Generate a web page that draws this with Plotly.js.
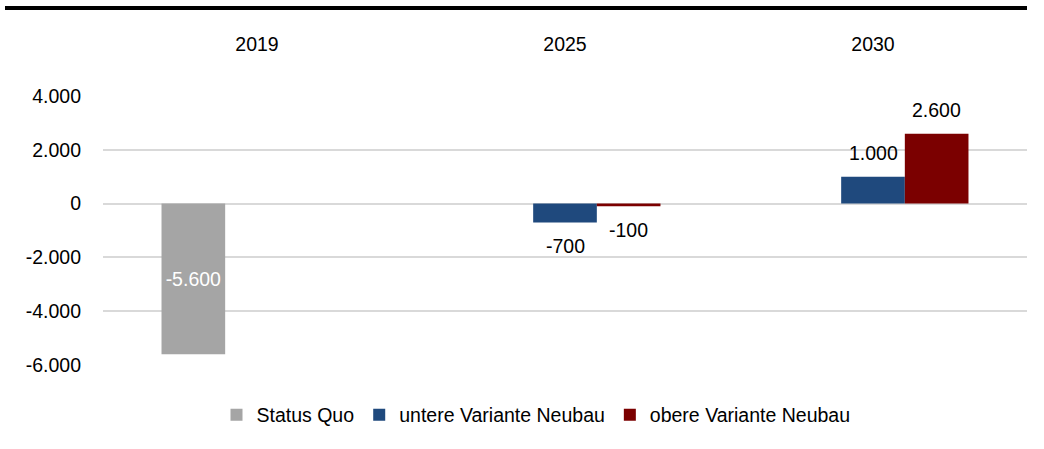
<!DOCTYPE html>
<html>
<head>
<meta charset="utf-8">
<script src="https://cdn.plot.ly/plotly-3.0.1.min.js"></script>
<style>html,body{margin:0;padding:0;background:#fff;}#chart{width:1044px;height:449px;}</style>
</head>
<body>
<div id="chart"></div>
<script>
// ---- data ----
var categories = ["2019", "2025", "2030"];
var seriesNames = ["Status Quo", "untere Variante Neubau", "obere Variante Neubau"];
var statusQuo = [-5600, null, null];
var untereVariante = [null, -700, 1000];
var obereVariante = [null, -100, 2600];
var tickValues = [4000, 2000, 0, -2000, -4000, -6000];
var tickLabels = ["4.000", "2.000", "0", "-2.000", "-4.000", "-6.000"];

// ---- styling ----
var FONT = "'Liberation Sans', Arial, sans-serif";
var FS = 19.5;
var colors = ["#A5A5A5", "#1F497D", "#7B0000"];

function fmt(v) {
  var s = Math.abs(v).toString().replace(/\B(?=(\d{3})+(?!\d))/g, ".");
  return (v < 0 ? "-" : "") + s;
}
function labels(arr) { return arr.map(function (v) { return v === null ? "" : fmt(v); }); }

var allSeries = [statusQuo, untereVariante, obereVariante];
var traces = allSeries.map(function (vals, i) {
  return {
    type: "bar",
    name: seriesNames[i],
    x: categories,
    y: vals,
    marker: { color: colors[i] },
    text: i === 0 ? labels(vals) : null,
    textposition: i === 0 ? "inside" : "none",
    insidetextanchor: "middle",
    textfont: { family: FONT, size: FS, color: "#ffffff" },
    hoverinfo: "x+y+name"
  };
});

// outside labels for the two Neubau series as annotations (offset like the original)
var annotations = [];
var barPx = 924 / 3 * (1 - 0.38) / 3;
[1, 2].forEach(function (i) {
  allSeries[i].forEach(function (v, j) {
    if (v === null) return;
    annotations.push({
      x: j, y: v, xref: "x", yref: "y",
      text: fmt(v), showarrow: false,
      xshift: (i - 1) * barPx,
      yshift: v < 0 ? -24 : 24,
      font: { family: FONT, size: FS, color: "#000000" }
    });
  });
});

var layout = {
  width: 1044, height: 449,
  paper_bgcolor: "#ffffff", plot_bgcolor: "#ffffff",
  margin: { l: 103, r: 17, t: 96, b: 84, pad: 0 },
  font: { family: FONT, size: FS, color: "#000000" },
  barmode: "group",
  bargap: 0.38,
  bargroupgap: 0,
  showlegend: true,
  legend: {
    orientation: "h", x: (536 - 103) / 924, xanchor: "center", y: -0.186, yanchor: "middle",
    font: { family: FONT, size: FS, color: "#000000" },
    itemwidth: 30, traceorder: "normal"
  },
  xaxis: {
    side: "top", type: "category",
    range: [-0.5, 2.5], autorange: false,
    showgrid: false, zeroline: false, showline: false, ticks: "",
    ticklabelstandoff: 40,
    tickfont: { family: FONT, size: FS, color: "#000000" }
  },
  yaxis: {
    range: [-6000, 4000], autorange: false,
    tickvals: tickValues, ticktext: tickLabels,
    showgrid: true, gridcolor: "#D9D9D9", gridwidth: 2,
    zeroline: true, zerolinecolor: "#D9D9D9", zerolinewidth: 2,
    showline: false, ticks: "",
    ticklabelstandoff: 21,
    tickfont: { family: FONT, size: FS, color: "#000000" }
  },
  annotations: annotations,
  shapes: [{
    type: "line", xref: "paper", yref: "paper",
    x0: -98 / 924, x1: 1, y0: 1 + 88 / 269, y1: 1 + 88 / 269,
    line: { color: "#000000", width: 4 }
  }]
};

Plotly.newPlot("chart", traces, layout, { displayModeBar: false, staticPlot: true });
</script>
</body>
</html>
